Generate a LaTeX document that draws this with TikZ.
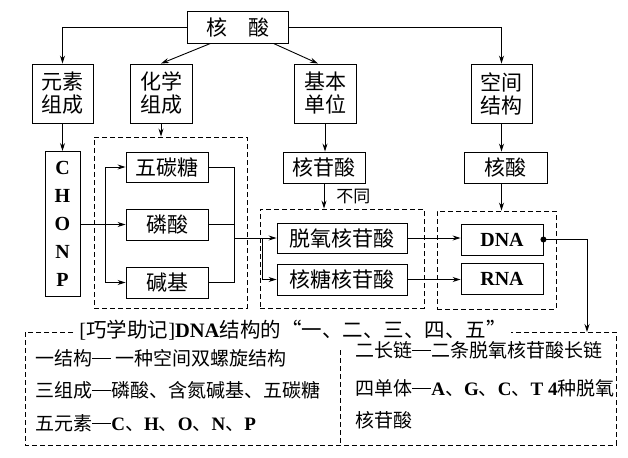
\documentclass[tikz,border=0pt]{standalone}
\usepackage{fontspec}
\setmainfont{Noto Sans CJK SC}
\newfontfamily\lat{Liberation Serif}
\usetikzlibrary{arrows.meta,calc}
\newcommand{\en}[1]{{\lat\bfseries #1}}
\newcommand{\zx}{\rule[0.35em]{1em}{0.045em}}
\begin{document}
\begin{tikzpicture}[x=1pt,y=-1pt,line width=0.9pt,
  box/.style={draw,inner sep=0pt,align=center,font=\fontsize{21}{23}\selectfont},
  dbox/.style={draw,dash pattern=on 5pt off 3pt,inner sep=0pt},
  arr/.style={-{Stealth[length=8pt,width=5pt]}},
  memo/.style={anchor=west,inner sep=0pt,font=\fontsize{19}{21}\selectfont}]
\useasboundingbox (0,0) rectangle (628,457);
% dashed groups
\node[dbox,minimum width=153pt,minimum height=171pt] (zu) at (170.5,222.5) {};
\node[dbox,minimum width=164pt,minimum height=99pt] (hg) at (342,258.5) {};
\node[dbox,minimum width=119pt,minimum height=98pt] (ja) at (496.5,260) {};
% top row
\node[box,minimum width=101pt,minimum height=32pt] (hs) at (237.5,27) {核\hspace{1em}酸};
\node[box,minimum width=61pt,minimum height=59pt] (ys) at (62.5,93.5) {元素\\组成};
\node[box,minimum width=62pt,minimum height=59pt] (hx) at (161,93.5) {化学\\组成};
\node[box,minimum width=62pt,minimum height=59pt] (jb) at (325,93.5) {基本\\单位};
\node[box,minimum width=61pt,minimum height=59pt] (kj) at (501.5,93.5) {空间\\结构};
% second row
\node[box,minimum width=35pt,minimum height=145pt,
      font=\lat\bfseries\fontsize{20}{28}\selectfont] (yuan) at (62.5,224) {C\\H\\O\\N\\P};
\node[box,minimum width=82pt,minimum height=30pt] (wt) at (167,167) {五碳糖};
\node[box,minimum width=82pt,minimum height=31pt] (ls) at (167,224.5) {磷酸};
\node[box,minimum width=82pt,minimum height=31pt] (jj) at (167,282.5) {碱基};
\node[box,minimum width=82pt,minimum height=31pt] (hgs) at (324,167.5) {核苷酸};
\node[box,minimum width=83pt,minimum height=31pt] (hs2) at (505.5,167.5) {核酸};
\node[box,minimum width=130pt,minimum height=30pt] (tx) at (342,238) {脱氧核苷酸};
\node[box,minimum width=130pt,minimum height=31pt] (ht) at (342,279.5) {核糖核苷酸};
\node[box,minimum width=82pt,minimum height=31pt,font=\lat\bfseries\fontsize{20}{21}\selectfont] (dna) at (502,239.5) {DNA};
\node[box,minimum width=82pt,minimum height=31pt,font=\lat\bfseries\fontsize{20}{21}\selectfont] (rna) at (502,278.5) {RNA};
% arrows
\draw[arr] (hs.west) -| (ys.north);
\draw[arr] (hs.east) -| (kj.north);
\draw[arr] ([xshift=-27pt]hs.south) -- (hx.north);
\draw[arr] ([xshift=36pt]hs.south) -- ([xshift=-7pt]jb.north);
\draw[arr] (ys.south) -- (yuan.north);
\draw[arr] (hx.south) -- (hx.south |- zu.north);
\draw[arr] (jb.south) -- (jb.south |- hgs.north);
\draw[arr] (kj.south) -- (kj.south |- hs2.north);
\draw[arr] (hgs.south) -- (hgs.south |- hg.north)
  node[midway,anchor=west,xshift=12pt,inner sep=0pt,font=\fontsize{17}{18}\selectfont] (bt) {不同};
\draw[arr] (kj.south |- hs2.south) -- (kj.south |- ja.north);
\coordinate (fen) at ([xshift=25pt]yuan.east |- ls.west);
\draw[arr] (yuan.east |- ls.west) -- (ls.west);
\draw[arr] (fen) |- (wt.west);
\draw[arr] (fen) |- (jj.west);
\coordinate (he) at ([xshift=26pt]ls.east);
\draw (wt.east) -| (he) |- (jj.east);
\draw (ls.east) -- (he);
\draw[arr] (he |- tx.west) -- (tx.west);
\coordinate (fen2) at ([xshift=-14pt]tx.west);
\draw[arr] (fen2) |- (ht.west);
\draw[arr] (tx.east) -- (tx.east -| dna.west);
\draw[arr] (ht.east) -- (ht.east -| rna.west);
\fill (dna.east) circle (3pt);
\coordinate (tip) at (587,332);
\draw[arr] (dna.east) -| (tip);
% memo
\draw[dbox] (25,332) rectangle (616,445);
\draw[dbox] (340,350) -- (340,445);
\node[fill=white,inner xsep=4pt,inner ysep=1pt,font=\fontsize{20.5}{21}\selectfont] (biaoti) at (293,330)
  {{\lat[}巧学助记{\lat]\bfseries DNA}结构的“一、二、三、四、五”};
\node[memo] (l1) at (35,358) {一结构\zx\ 一种空间双螺旋结构};
\node[memo] (l2) at (35,390) {三组成\zx 磷酸、含氮碱基、五碳糖};
\node[memo] (l3) at (35,423) {五元素\zx\en{C}、\en{H}、\en{O}、\en{N}、\en{P}};
\node[memo] (r1) at (355,350) {二长链\zx 二条脱氧核苷酸长链};
\node[memo] (r2) at (355,388) {四单体\zx\en{A}、\en{G}、\en{C}、\en{T 4}种脱氧};
\node[memo] (r3) at (355,420) {核苷酸};
\end{tikzpicture}
\end{document}
